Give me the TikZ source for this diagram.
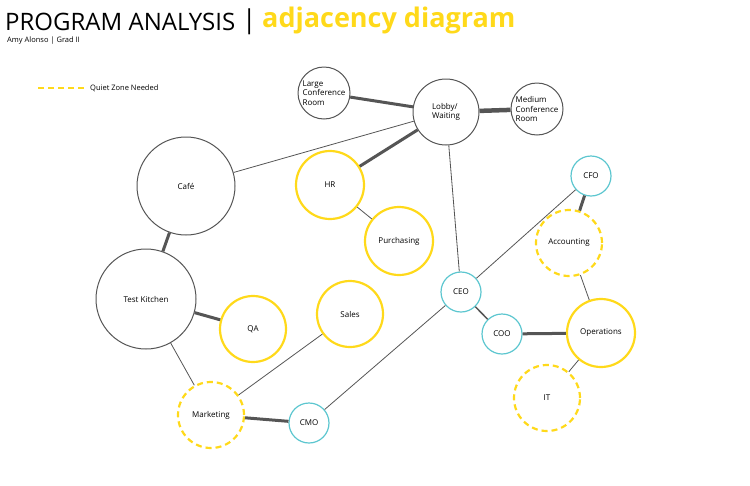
\documentclass[tikz,border=0pt]{standalone}
\usepackage{fontspec}
\setmainfont{Open Sans}
\definecolor{yel}{HTML}{FFD91A}
\definecolor{cy}{HTML}{5CC6CF}
\definecolor{gr}{HTML}{555555}
\begin{document}
\begin{tikzpicture}[x=1pt,y=-1pt,
  rm/.style={circle,draw=gr,line width=1pt,inner sep=0pt,align=center,font=\fontsize{8}{9.5}\selectfont},
  ye/.style={rm,draw=yel,line width=2.2pt},
  yd/.style={ye,dashed,dash pattern=on 6pt off 4pt},
  cb/.style={rm,draw=cy,line width=1.2pt},
  thin/.style={gr,line width=0.8pt},
  thk/.style={gr,line width=3pt},
  vthk/.style={gr,line width=4.5pt}]
\useasboundingbox (0,0) rectangle (750,485);
\node[anchor=west,inner sep=0pt,font=\fontsize{24}{26}\selectfont] (t1) at (5,22) {PROGRAM ANALYSIS};
\node[anchor=west,inner sep=0pt,font=\fontsize{26}{26}\selectfont] (t2) at (242,22) {|};
\node[anchor=west,inner sep=0pt,font=\fontsize{27}{28}\selectfont\bfseries,text=yel] (t3) at (262,20) {adjacency diagram};
\node[anchor=west,inner sep=0pt,font=\fontsize{7.5}{9}\selectfont] (t4) at (7,41) {Amy Alonso | Grad II};
\coordinate (l1) at (38,88); \coordinate (l2) at (85,88);
\draw[yel,line width=2.2pt,dash pattern=on 6pt off 4pt] (l1) -- (l2);
\node[anchor=west,inner sep=0pt,font=\fontsize{7.5}{9}\selectfont] (lt) at (90,88) {Quiet Zone Needed};

\node[rm,minimum size=52pt,align=left] (lcr) at (324,93) {Large\\Conference\\Room};
\node[rm,minimum size=66pt,align=left] (lob) at (446,112) {Lobby/\\Waiting};
\node[rm,minimum size=52pt,align=left] (mcr) at (537,109) {Medium\\Conference\\Room};
\node[rm,minimum size=98pt] (caf) at (186,186) {Café};
\node[ye,minimum size=68pt] (hr) at (330,185) {HR};
\node[ye,minimum size=68pt] (pur) at (399,241) {Purchasing};
\node[rm,minimum size=100pt] (tk) at (146,299) {Test Kitchen};
\node[ye,minimum size=66pt] (qa) at (253,329) {QA};
\node[ye,minimum size=66pt] (sal) at (350,314) {Sales};
\node[yd,minimum size=66pt] (mkt) at (211,415) {Marketing};
\node[cb,minimum size=40pt] (cmo) at (309,423) {CMO};
\node[cb,minimum size=40pt] (ceo) at (461,292) {CEO};
\node[cb,minimum size=40pt] (coo) at (502,334) {COO};
\node[cb,minimum size=40pt] (cfo) at (591,176) {CFO};
\node[yd,minimum size=66pt] (acc) at (569,243) {Accounting};
\node[ye,minimum size=68pt] (ops) at (601,333) {Operations};
\node[yd,minimum size=66pt] (it) at (547,398) {IT};

\draw[thk] (lcr) -- (lob);
\draw[vthk] (lob) -- (mcr);
\draw[thin] (lob) -- (caf);
\draw[thk] (lob) -- (hr);
\draw[thin] (hr) -- (pur);
\draw[thin] (lob) -- (ceo);
\draw[thk] (caf) -- (tk);
\draw[thk] (tk) -- (qa);
\draw[thin] (tk) -- (mkt);
\draw[thin] (mkt) -- (sal);
\draw[thk] (mkt) -- (cmo);
\draw[thin] (cmo) -- (ceo);
\draw[thin] (ceo) -- (cfo);
\draw[gr,line width=1.5pt] (ceo) -- (coo);
\draw[thk] (coo) -- (ops);
\draw[thk] (cfo) -- (acc);
\draw[thin] (acc) -- (ops);
\draw[thin] (ops) -- (it);
\end{tikzpicture}
\end{document}
